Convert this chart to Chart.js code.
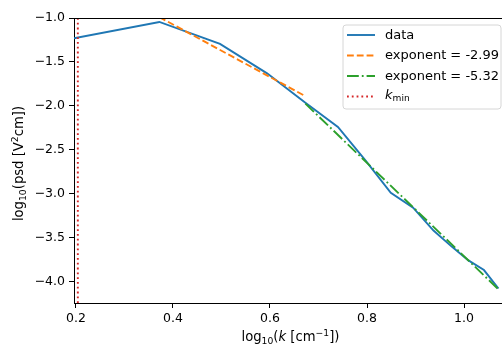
<!DOCTYPE html>
<html>
<head>
<meta charset="utf-8">
<script src="https://cdn.jsdelivr.net/npm/chart.js@4/dist/chart.umd.min.js"></script>
<style>
  html, body { margin: 0; padding: 0; background: #fff; overflow: hidden; }
  #wrap { width: 512px; height: 347px; }
</style>
</head>
<body>
<div id="wrap"><canvas id="psdChart" width="512" height="347"></canvas></div>
<script>
// log10(k) and log10(psd)
var logK = [0.196, 0.372, 0.497, 0.594, 0.673, 0.740, 0.798, 0.849, 0.895, 0.937, 0.974, 1.009, 1.041, 1.071];
var logPsd = [-1.23, -1.045, -1.295, -1.63, -1.965, -2.24, -2.63, -2.99, -3.16, -3.42, -3.60, -3.76, -3.87, -4.08];

// fitted power laws
var fit1X = [0.372, 0.673];
var fit1Y = [-0.99, -1.89];
var fit2X = [0.673, 1.071];
var fit2Y = [-1.975, -4.09];

var kmin = 0.204;
var xLimits = [0.1961, 1.0885];
var yLimits = [-4.245, -1.0];
var xTicks = [0.2, 0.4, 0.6, 0.8, 1.0];
var yTicks = [-4.0, -3.5, -3.0, -2.5, -2.0, -1.5, -1.0];

var labels = ["data", "exponent = -2.99", "exponent = -5.32"];
var colors = ["#1f77b4", "#ff7f0e", "#2ca02c", "#d62728"];

function pts(xs, ys) {
  return xs.map(function (x, i) { return { x: x, y: ys[i] }; });
}

var FONT = "'DejaVu Sans', sans-serif";
var FS = 12.5;   // tick labels
var TS = 13.2;   // axis titles
var LS = 13;     // legend

// draw text made of pieces: {t, sub, sup, it}
function richWidth(ctx, parts, size) {
  var w = 0;
  parts.forEach(function (p) {
    var s = (p.sub || p.sup) ? size * 0.7 : size;
    ctx.font = (p.it ? "italic " : "") + s + "px " + FONT;
    w += ctx.measureText(p.t).width;
  });
  return w;
}
function richDraw(ctx, parts, x, y, size) {
  parts.forEach(function (p) {
    var s = (p.sub || p.sup) ? size * 0.7 : size;
    var dy = p.sub ? size * 0.22 : (p.sup ? -size * 0.38 : 0);
    ctx.font = (p.it ? "italic " : "") + s + "px " + FONT;
    ctx.fillText(p.t, x, y + dy);
    x += ctx.measureText(p.t).width;
  });
}

var extras = {
  id: "extras",
  afterDraw: function (chart) {
    var ctx = chart.ctx, a = chart.chartArea;
    ctx.save();
    // top and right spines
    ctx.strokeStyle = "#000";
    ctx.lineWidth = 1;
    ctx.beginPath();
    ctx.moveTo(a.left, a.top + 0.5);
    ctx.lineTo(a.right, a.top + 0.5);
    ctx.lineTo(a.right - 0.5, a.bottom);
    ctx.stroke();

    ctx.fillStyle = "#000";
    ctx.textBaseline = "alphabetic";
    ctx.textAlign = "left";

    // x title
    var xt = [{ t: "log" }, { t: "10", sub: 1 }, { t: "(" }, { t: "k", it: 1 }, { t: " [cm" }, { t: "\u22121", sup: 1 }, { t: "])" }];
    var w = richWidth(ctx, xt, TS);
    richDraw(ctx, xt, (a.left + a.right) / 2 - w / 2, 341, TS);

    // y title
    var yt = [{ t: "log" }, { t: "10", sub: 1 }, { t: "(psd [V" }, { t: "2", sup: 1 }, { t: "cm])" }];
    w = richWidth(ctx, yt, TS);
    ctx.save();
    ctx.translate(23, (a.top + a.bottom) / 2 + 3);
    ctx.rotate(-Math.PI / 2);
    richDraw(ctx, yt, -w / 2, 0, TS);
    ctx.restore();

    // legend
    var bx = 343, by = 25, bw = 158, bh = 84, r = 3;
    ctx.beginPath();
    ctx.moveTo(bx + r, by);
    ctx.arcTo(bx + bw, by, bx + bw, by + bh, r);
    ctx.arcTo(bx + bw, by + bh, bx, by + bh, r);
    ctx.arcTo(bx, by + bh, bx, by, r);
    ctx.arcTo(bx, by, bx + bw, by, r);
    ctx.closePath();
    ctx.fillStyle = "rgba(255,255,255,0.8)";
    ctx.fill();
    ctx.strokeStyle = "#d6d6d6";
    ctx.stroke();

    var dashes = [[], [6.8, 3], [11.8, 3, 1.8, 3], [1.8, 3]];
    var rows = [35, 55.5, 76, 96.5];
    for (var i = 0; i < 4; i++) {
      ctx.beginPath();
      ctx.setLineDash(dashes[i]);
      ctx.strokeStyle = colors[i];
      ctx.lineWidth = 1.9;
      ctx.moveTo(347, rows[i]);
      ctx.lineTo(375, rows[i]);
      ctx.stroke();
    }
    ctx.setLineDash([]);
    ctx.fillStyle = "#000";
    ctx.textBaseline = "middle";
    for (i = 0; i < 3; i++) {
      ctx.font = LS + "px " + FONT;
      ctx.fillText(labels[i], 385, rows[i] + 0.5);
    }
    richDraw(ctx, [{ t: "k", it: 1 }, { t: "min", sub: 1 }], 385, rows[3] - 0.5, LS);
    ctx.restore();
  }
};

function fmt(v) {
  return v.toFixed(1).replace("-", "\u2212");
}

var tickFont = { family: FONT, size: FS };

new Chart(document.getElementById("psdChart"), {
  type: "scatter",
  data: {
    datasets: [
      { label: labels[0], data: pts(logK, logPsd), showLine: true, borderColor: colors[0], borderWidth: 1.9, pointRadius: 0, order: 4 },
      { label: labels[1], data: pts(fit1X, fit1Y), showLine: true, borderColor: colors[1], borderWidth: 1.9, borderDash: [6.8, 3], pointRadius: 0, order: 3 },
      { label: labels[2], data: pts(fit2X, fit2Y), showLine: true, borderColor: colors[2], borderWidth: 1.9, borderDash: [11.8, 3, 1.8, 3], pointRadius: 0, order: 2 },
      { label: "kmin", data: pts([kmin, kmin], yLimits), showLine: true, borderColor: colors[3], borderWidth: 1.9, borderDash: [1.8, 3], pointRadius: 0, order: 1 }
    ]
  },
  options: {
    responsive: false,
    animation: false,
    layout: { padding: { top: 18, right: 5, left: 0, bottom: 0 } },
    plugins: { legend: { display: false }, tooltip: { enabled: false } },
    scales: {
      x: {
        type: "linear",
        min: xLimits[0],
        max: xLimits[1],
        afterFit: function (s) { s.height = 44; },
        afterBuildTicks: function (s) { s.ticks = xTicks.map(function (v) { return { value: v }; }); },
        grid: { drawOnChartArea: false, tickLength: 5, color: "#000" },
        border: { display: true, color: "#000", width: 1 },
        ticks: { font: tickFont, color: "#000", padding: 3, maxRotation: 0, callback: function (v) { return fmt(v); } }
      },
      y: {
        type: "linear",
        min: yLimits[0],
        max: yLimits[1],
        afterFit: function (s) { s.width = 74; },
        afterBuildTicks: function (s) { s.ticks = yTicks.map(function (v) { return { value: v }; }); },
        grid: { drawOnChartArea: false, tickLength: 5, color: "#000" },
        border: { display: true, color: "#000", width: 1 },
        ticks: { font: tickFont, color: "#000", padding: 4, callback: function (v) { return fmt(v); } }
      }
    }
  },
  plugins: [extras]
});
</script>
</body>
</html>
